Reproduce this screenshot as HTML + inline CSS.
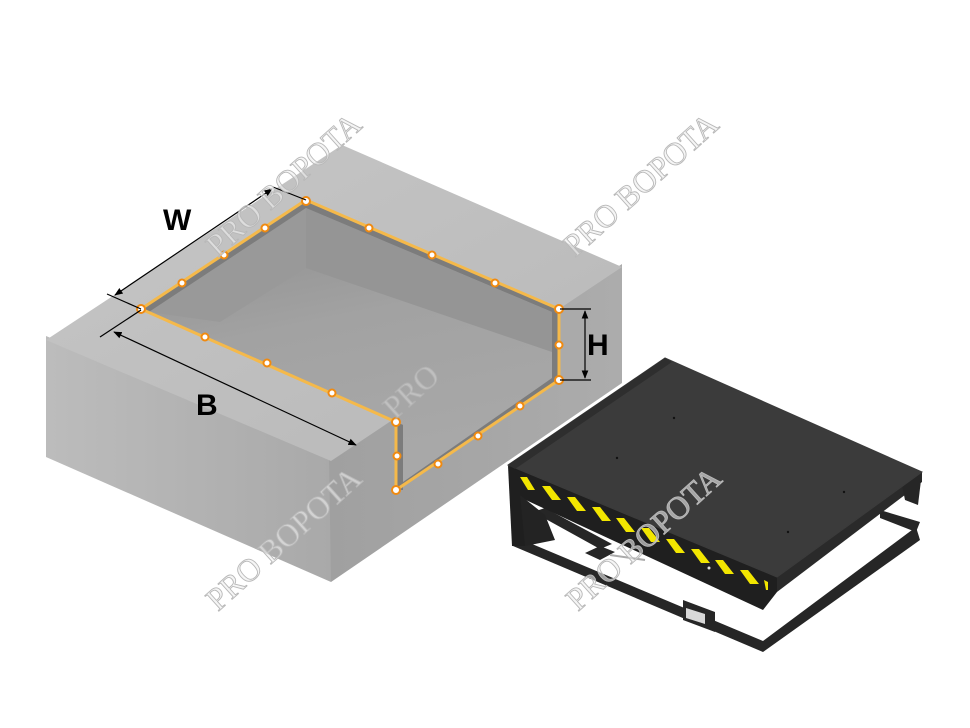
<!DOCTYPE html>
<html><head><meta charset="utf-8"><style>
html,body{margin:0;padding:0;background:#fff;}
svg{display:block;}
</style></head><body>
<svg width="970" height="728" viewBox="0 0 970 728" xmlns="http://www.w3.org/2000/svg">
<defs>
<linearGradient id="top" x1="0" y1="0" x2="1" y2="1">
<stop offset="0" stop-color="#c6c6c6"/><stop offset="1" stop-color="#b8b8b8"/></linearGradient>
<linearGradient id="lf" x1="0" y1="0" x2="1" y2="0">
<stop offset="0" stop-color="#bcbcbc"/><stop offset="1" stop-color="#a9a9a9"/></linearGradient>
<linearGradient id="rf" x1="0" y1="0" x2="1" y2="0">
<stop offset="0" stop-color="#a0a0a0"/><stop offset="1" stop-color="#acacac"/></linearGradient>
<linearGradient id="pit" x1="0" y1="0" x2="0.3" y2="1">
<stop offset="0" stop-color="#8c8c8c"/><stop offset="0.5" stop-color="#a2a2a2"/><stop offset="1" stop-color="#a8a8a8"/></linearGradient>
<marker id="ar" viewBox="0 0 10 10" refX="9" refY="5" markerWidth="7" markerHeight="7" orient="auto-start-reverse">
<path d="M0,1 L10,5 L0,9 z" fill="#000"/></marker>
</defs>

<!-- concrete block -->
<polygon points="46,336 331,456 331,582 46,457" fill="url(#lf)"/>
<polygon points="329,460 622,264 622,383 331,582" fill="url(#rf)"/>
<polygon points="46,340 342,145 622,267 331,461" fill="url(#top)"/>
<!-- pit -->
<polygon points="141,309 306,200 559,309 559,380 396,490 396,422" fill="#7c7c7c"/>
<polygon points="149,312 306,208 552,312 552,378 403,482 403,425" fill="url(#pit)"/>
<polygon points="306,208 306,268 552,352 552,312" fill="#959595"/>
<polygon points="149,312 306,208 306,268 220,322" fill="#999"/>
<polygon points="396,422 403,425 403,490 396,490" fill="#7c7c7c"/>

<!-- orange outline -->
<polyline points="141,309 306,200 559,309 559,380 396,490 396,422 141,309" fill="none" stroke="#f5b94a" stroke-width="3"/>
<g fill="#fff" stroke="#f08a10" stroke-width="2">
<circle cx="141" cy="309" r="4"/><circle cx="306" cy="201" r="4"/><circle cx="559" cy="309" r="4"/>
<circle cx="559" cy="380" r="4"/><circle cx="396" cy="490" r="4"/><circle cx="396" cy="422" r="4"/>
<circle cx="182" cy="283" r="3.5"/><circle cx="224" cy="255" r="3.5"/><circle cx="265" cy="228" r="3.5"/>
<circle cx="369" cy="228" r="3.5"/><circle cx="432" cy="255" r="3.5"/><circle cx="495" cy="283" r="3.5"/>
<circle cx="559" cy="345" r="3.5"/><circle cx="520" cy="406" r="3.5"/><circle cx="478" cy="436" r="3.5"/>
<circle cx="438" cy="464" r="3.5"/><circle cx="397" cy="456" r="3.5"/><circle cx="332" cy="393" r="3.5"/>
<circle cx="267" cy="363" r="3.5"/><circle cx="205" cy="337" r="3.5"/>
</g>

<!-- dimensions -->
<g stroke="#000" stroke-width="1.2" fill="none">
<line x1="107" y1="294" x2="141" y2="309"/>
<line x1="273" y1="187" x2="306" y2="200"/>
<line x1="115" y1="295" x2="272" y2="189" marker-start="url(#ar)" marker-end="url(#ar)"/>
<line x1="100" y1="337" x2="141" y2="310"/>
<line x1="114" y1="332" x2="356" y2="445" marker-start="url(#ar)" marker-end="url(#ar)"/>
<line x1="560" y1="309" x2="591" y2="309"/>
<line x1="560" y1="380" x2="591" y2="380"/>
<line x1="585" y1="311" x2="585" y2="378" marker-start="url(#ar)" marker-end="url(#ar)"/>
</g>
<g font-family="Liberation Sans, sans-serif" font-weight="bold" font-size="30" fill="#000">
<text x="163" y="230">W</text>
<text x="196" y="415">B</text>
<text x="587" y="355">H</text>
</g>

<!-- leveler frame (lower ring) -->
<g fill="#262626">
<polygon points="513,536 763,641 763,652 513,546"/>
<polygon points="763,641 916,527 920,540 763,652"/>
<polygon points="880,510 920,522 916,532 880,518"/>
<polygon points="533,512 545,508 612,544 600,549"/>
<polygon points="585,553 600,546 615,552 600,560"/>
<polygon points="683,600 715,612 715,632 683,620"/>
</g>
<polygon points="686,608 705,614 705,624 686,618" fill="#d8d8d8"/>
<line x1="610" y1="555" x2="645" y2="560" stroke="#aaa" stroke-width="2"/>

<!-- deck -->
<polygon points="777,577 922,472 922,482 777,592" fill="#2a2a2a"/>
<polygon points="900,475 922,472 918,505 905,500" fill="#262626"/>
<polygon points="508,465 777,577 777,592 763,610 515,495" fill="#1f1f1f"/>
<polygon points="508,465 665,358 922,472 777,577" fill="#3b3b3b" stroke="#3b3b3b" stroke-width="1"/>
<polygon points="508,465 665,358 672,362 515,469" fill="#2e2e2e"/>
<polygon points="508,466 525,474 525,546 512,546" fill="#1f1f1f"/>
<polygon points="520,495 545,515 555,540 525,546" fill="#232323"/>
<g fill="#f2e600">
<polygon points="520,477 527,477 535,490 528,490"/>
<polygon points="542,486 550,486 561,500 552,500"/>
<polygon points="567,497 575,497 586,511 577,511"/>
<polygon points="592,507 600,507 611,521 602,521"/>
<polygon points="616,518 624,518 635,532 626,532"/>
<polygon points="641,528 649,528 660,542 651,542"/>
<polygon points="666,539 674,539 685,553 676,553"/>
<polygon points="691,549 699,549 710,563 701,563"/>
<polygon points="715,560 723,560 734,574 725,574"/>
<polygon points="740,570 748,570 759,584 750,584"/>
<polygon points="764,580 768,582 768,590 766,590"/>
</g>
<g fill="#111"><circle cx="674" cy="418" r="1.2"/><circle cx="617" cy="458" r="1.2"/><circle cx="844" cy="492" r="1.2"/><circle cx="788" cy="532" r="1.2"/></g>
<circle cx="709" cy="568" r="1.5" fill="#ddd"/>

<!-- watermarks -->
<g font-family="Liberation Serif, serif" font-size="32" fill="#eeeeee" fill-opacity="0.6" stroke="#b8b8b8" stroke-width="0.9">
<text transform="translate(218,258) rotate(-42)">PRO BOPOTA</text>
<text transform="translate(575,258) rotate(-42)">PRO BOPOTA</text>
<text transform="translate(218,612) rotate(-42)">PRO BOPOTA</text>
<text transform="translate(578,612) rotate(-42)">PRO BOPOTA</text>
<text transform="translate(395,420) rotate(-42)" opacity="0.6">PRO</text>
</g>
</svg>
</body></html>
